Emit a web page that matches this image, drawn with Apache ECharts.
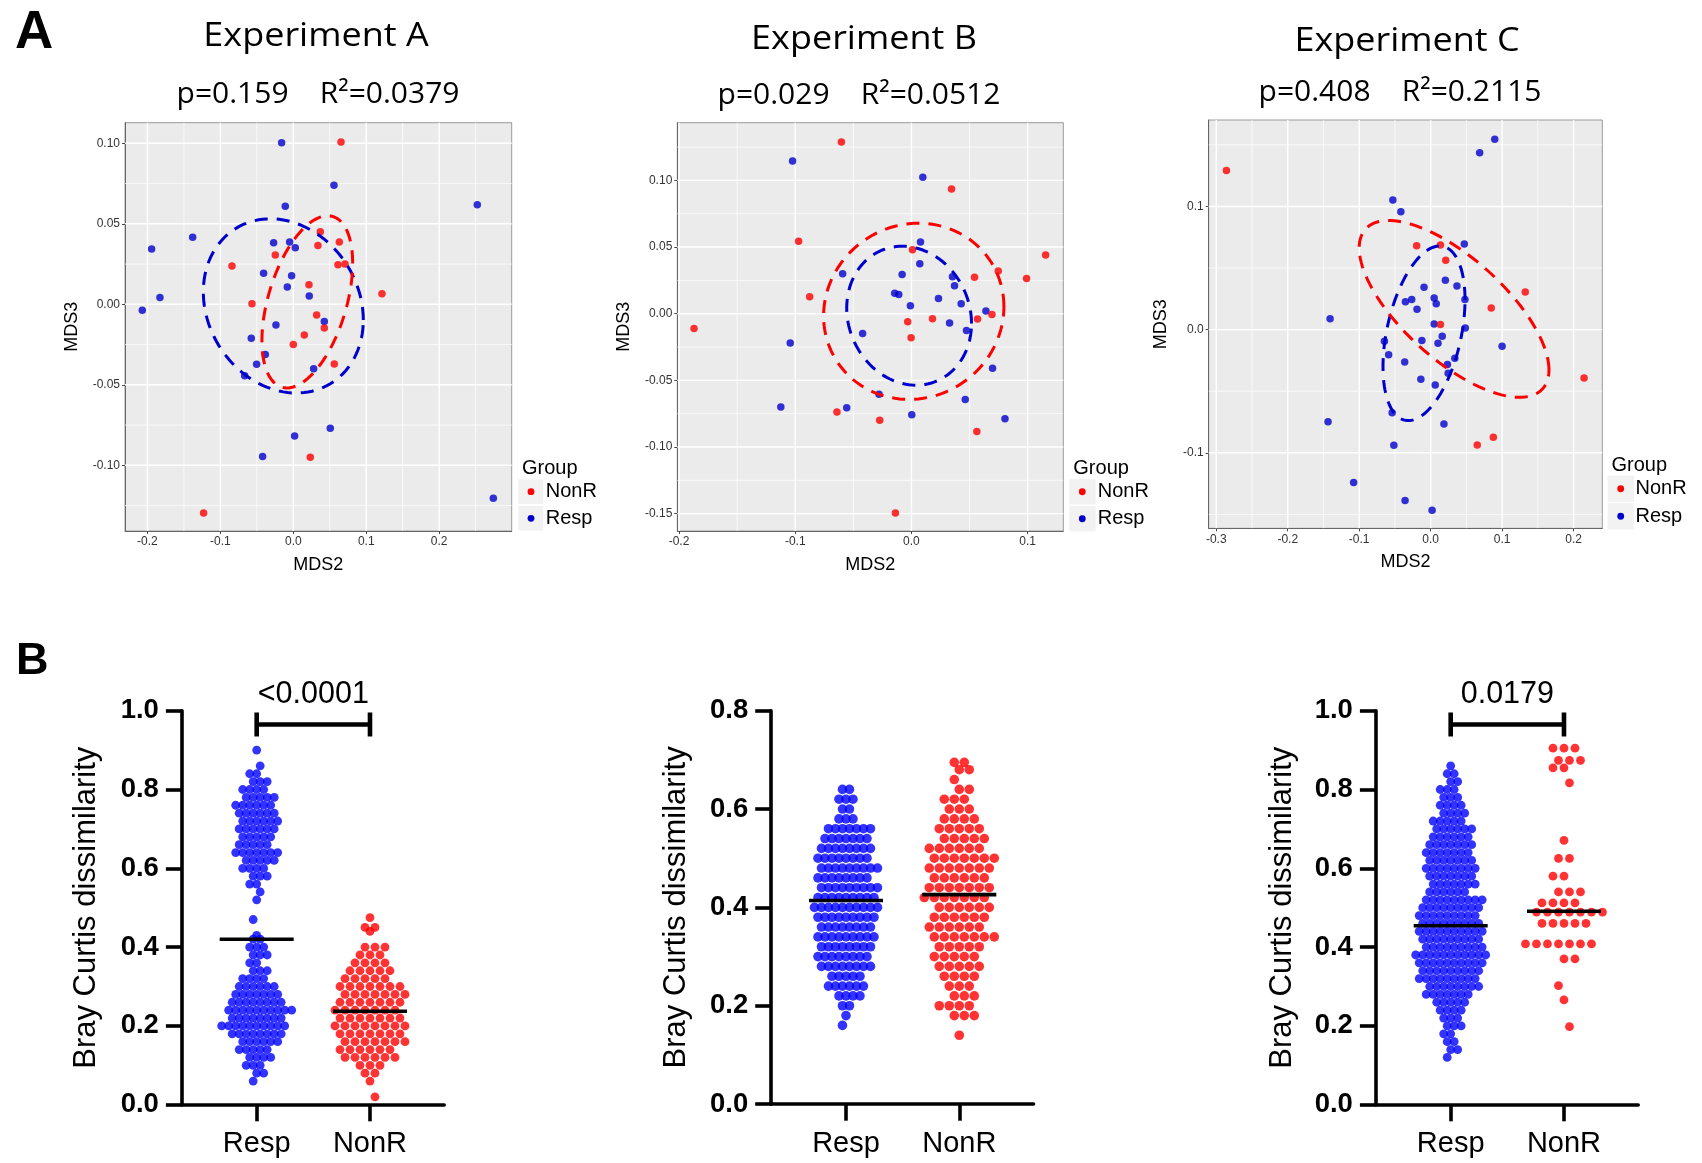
<!DOCTYPE html>
<html>
<head>
<meta charset="utf-8">
<script src="https://cdn.jsdelivr.net/npm/echarts@6/dist/echarts.min.js"></script>
<style>
html, body { margin: 0; padding: 0; background: #fff; }
#chart { width: 1702px; height: 1163px; }
</style>
</head>
<body>
<div id="chart"></div>
<script>
"use strict";

// ---- panel A: MDS ordination, points are [MDS2, MDS3] ----
var expA_resp = [[-0.016,0.1004],[0.0558,0.0739],[0.2523,0.0619],[-0.011,0.0609],[-0.138,0.0416],[-0.1943,0.0344],
	[-0.027,0.0383],[-0.005,0.0387],[0.0027,0.0352],[-0.0407,0.0193],[-0.0023,0.0178],[-0.0082,0.0108],[0.0219,0.0052],
	[-0.1829,0.0043],[-0.2071,-0.0037],[-0.0238,-0.0128],[0.0425,-0.0106],[-0.0576,-0.0211],[-0.0384,-0.0311],
	[-0.0503,-0.0373],[-0.0667,-0.0443],[0.0279,-0.04],[0.0507,-0.077],[0.0018,-0.0818],[-0.0421,-0.0946],[0.2743,-0.1205]];
var expA_nonr = [[0.0654,0.1008],[0.037,0.0451],[0.0338,0.0366],[0.0631,0.0387],[-0.0247,0.0306],[-0.0841,0.0238],
	[0.0613,0.0246],[0.0709,0.0251],[0.0215,0.0122],[0.1216,0.0066],[-0.0567,0.0004],[0.032,-0.0066],[0.0425,-0.0147],
	[0.0151,-0.019],[0.0,-0.025],[0.0562,-0.0371],[0.0233,-0.095],[-0.123,-0.1296]];
var expB_resp = [[-0.1023,0.1145],[0.0098,0.1023],[0.0078,0.0538],[0.0072,0.0375],[-0.0592,0.03],[-0.008,0.0295],
	[0.0353,0.0278],[0.0371,0.021],[-0.0144,0.0153],[-0.0109,0.0145],[0.0233,0.0115],[0.0428,0.0075],[-0.0009,0.006],
	[0.0641,0.002],[-0.042,-0.0148],[0.0328,-0.007],[0.0474,-0.0125],[-0.1043,-0.022],[0.0698,-0.041],[-0.0279,-0.0605],
	[-0.1124,-0.07],[-0.0557,-0.0705],[0.0463,-0.0643],[0.0003,-0.0758],[0.0805,-0.0788]];
var expB_nonr = [[-0.0603,0.1288],[0.0345,0.0935],[-0.0971,0.0543],[0.1155,0.044],[0.0009,0.048],[0.0747,0.032],
	[0.0543,0.0273],[0.0991,0.0265],[-0.0876,0.0128],[-0.1871,-0.011],[-0.0032,-0.006],[0.0181,-0.0038],[0.0569,-0.004],
	[0.0693,-0.0005],[-0.0003,-0.018],[-0.0641,-0.0738],[-0.0273,-0.08],[0.0563,-0.0883],[-0.0138,-0.1495]];
var expC_resp = [[0.0897,0.1545],[0.0686,0.1437],[-0.0529,0.1053],[-0.0417,0.0958],[0.0471,0.0696],[0.0206,0.0401],
	[0.0368,0.0355],[-0.0093,0.0344],[0.0049,0.0257],[0.048,0.0244],[-0.0265,0.0244],[-0.0353,0.0227],[0.0078,0.0211],
	[-0.0191,0.0165],[-0.1407,0.0089],[0.0049,0.0046],[0.0485,0.0014],[-0.0647,-0.0095],[-0.0123,-0.0089],[0.0162,-0.0054],
	[0.0103,-0.0111],[0.1,-0.0135],[-0.0588,-0.0203],[-0.0363,-0.0263],[0.0338,-0.0233],[0.0235,-0.0284],[0.0245,-0.0355],
	[-0.0137,-0.0403],[0.0064,-0.0449],[-0.0539,-0.0674],[0.0186,-0.0766],[-0.1436,-0.0747],[-0.0515,-0.0939],
	[-0.1078,-0.1242],[-0.0358,-0.1388],[0.002,-0.1467]];
var expC_nonr = [[-0.2858,0.1291],[-0.0196,0.0682],[0.0137,0.0687],[0.0211,0.0563],[0.1324,0.0306],[0.0848,0.0176],
	[0.0137,0.0041],[0.2147,-0.0392],[0.0877,-0.0874],[0.0652,-0.0936]];

// 95% ellipses: [centre x, centre y, semi-diameter u (x, y), conjugate semi-diameter v (x, y)]
var ellA_resp = [-0.0137, -0.001, 0.1097, -0.0087, 0, 0.0534];
var ellA_nonr = [0.0192, 0.0015, 0.0622, 0.024, 0, 0.0478];
var ellB_resp = [-0.002, -0.0015, 0.0537, -0.0058, 0, 0.0518];
var ellB_nonr = [0.002, 0.0018, 0.0776, 0.0035, 0, 0.066];
var ellC_resp = [-0.0093, -0.003, 0.0574, 0.0271, 0, 0.0655];
var ellC_nonr = [0.0328, 0.0168, 0.1328, -0.0495, 0, 0.052];

var expTitles = ['Experiment A', 'Experiment B', 'Experiment C'];
var expStats = ['p=0.159    R\u00b2=0.0379', 'p=0.029    R\u00b2=0.0512', 'p=0.408    R\u00b2=0.2115'];
var xTicksA = [-0.2, -0.1, 0, 0.1, 0.2], yTicksA = [-0.1, -0.05, 0, 0.05, 0.1];
var xTicksB = [-0.2, -0.1, 0, 0.1], yTicksB = [-0.15, -0.1, -0.05, 0, 0.05, 0.1];
var xTicksC = [-0.3, -0.2, -0.1, 0, 0.1, 0.2], yTicksC = [-0.1, 0, 0.1];

// ---- panel B: Bray Curtis dissimilarity, rows of the swarm as [value, number of dots] ----
var groups = ['Resp', 'NonR'];
var brayA_resp = [[0.90,1],[0.86,1],[0.84,2],[0.82,3],[0.80,4],[0.78,5],[0.76,6],[0.74,6],[0.72,6],[0.70,6],[0.68,5],
	[0.66,5],[0.64,7],[0.62,5],[0.60,4],[0.58,3],[0.56,2],[0.54,1],[0.52,1],[0.47,1],[0.43,1],[0.42,2],[0.40,3],[0.38,3],
	[0.36,2],[0.34,3],[0.32,4],[0.30,6],[0.28,7],[0.26,8],[0.24,10],[0.22,8],[0.20,10],[0.18,8],[0.16,6],[0.14,5],
	[0.12,4],[0.10,3],[0.08,2],[0.06,1]];
var brayA_nonr = [[0.475,1],[0.45,2],[0.44,1],[0.40,3],[0.38,3],[0.36,4],[0.34,5],[0.32,5],[0.30,7],[0.28,7],[0.26,7],
	[0.24,7],[0.22,7],[0.20,8],[0.18,7],[0.16,7],[0.14,6],[0.12,6],[0.10,3],[0.08,2],[0.06,1],[0.02,1]];
var brayB_resp = [[0.64,2],[0.62,3],[0.60,2],[0.58,3],[0.56,7],[0.54,7],[0.52,8],[0.50,8],[0.48,9],[0.46,8],[0.44,9],
	[0.42,9],[0.40,10],[0.38,9],[0.36,8],[0.34,9],[0.32,8],[0.30,8],[0.28,8],[0.26,5],[0.24,6],[0.22,4],[0.20,2],
	[0.18,1],[0.16,1]];
var brayB_nonr = [[0.695,2],[0.68,2],[0.66,1],[0.64,2],[0.62,3],[0.60,3],[0.58,4],[0.56,5],[0.54,5],[0.52,6],[0.50,7],
	[0.48,7],[0.46,6],[0.44,7],[0.42,7],[0.40,6],[0.38,6],[0.36,6],[0.34,7],[0.32,5],[0.30,5],[0.28,5],[0.26,4],[0.24,3],
	[0.22,3],[0.20,4],[0.18,3],[0.14,1]];
var brayC_resp = [[0.86,1],[0.84,2],[0.82,2],[0.80,3],[0.78,3],[0.76,4],[0.74,4],[0.72,5],[0.70,6],[0.68,6],[0.66,7],
	[0.64,7],[0.62,7],[0.60,8],[0.58,7],[0.56,7],[0.54,6],[0.52,9],[0.50,9],[0.48,9],[0.46,9],[0.44,10],[0.42,9],[0.40,9],
	[0.38,11],[0.36,10],[0.34,9],[0.32,9],[0.30,8],[0.28,7],[0.26,5],[0.24,4],[0.22,3],[0.20,3],[0.18,2],[0.16,2],
	[0.14,2],[0.12,1]];
var brayC_nonr = [[0.905,3],[0.874,3],[0.855,2],[0.817,1],[0.671,1],[0.625,2],[0.58,2],[0.54,3],[0.512,4],[0.489,7],
	[0.46,5],[0.408,7],[0.37,2],[0.302,1],[0.266,1],[0.198,1]];
var brayMedians = [[0.420, 0.237], [0.414, 0.426], [0.454, 0.491]];
var brayPvalues = ['<0.0001', null, '0.0179'];
var bracketLevel = 0.965;

var SANS = '"Liberation Sans", Arial, sans-serif';
var RED = '#FF0000', BLUE_TOP = '#0000CD', BLUE = '#0000FF';

var topLayout = [
	{left: 125, top: 122.7, width: 386.7, height: 408.3, x: [-0.2308, 0.2995], y: [-0.1408, 0.1128], xGap: 25, yGap: 44, yDec: 2},
	{left: 677.3, top: 122.7, width: 386, height: 408.3, x: [-0.2015, 0.1307], y: [-0.163, 0.1433], xGap: 25, yGap: 44, yDec: 2},
	{left: 1208.7, top: 120, width: 393.6, height: 408.3, x: [-0.3106, 0.2402], y: [-0.1613, 0.1702], xGap: 25, yGap: 39, yDec: 1}
];
var botLayout = [
	{left: 181.9, top: 710.7, width: 262.3, height: 394, yMax: 1.0, nameGap: 80},
	{left: 771.2, top: 710.7, width: 262.3, height: 393.4, yMax: 0.8, nameGap: 79},
	{left: 1375.9, top: 710.7, width: 262.3, height: 394, yMax: 1.0, nameGap: 78}
];
var CAT_MIN = 0.34, CAT_MAX = 2.655;
var PX_PER_CAT = 262.3 / (CAT_MAX - CAT_MIN);

var topData = [
	{resp: expA_resp, nonr: expA_nonr, ellR: ellA_resp, ellN: ellA_nonr, xt: xTicksA, yt: yTicksA},
	{resp: expB_resp, nonr: expB_nonr, ellR: ellB_resp, ellN: ellB_nonr, xt: xTicksB, yt: yTicksB},
	{resp: expC_resp, nonr: expC_nonr, ellR: ellC_resp, ellN: ellC_nonr, xt: xTicksC, yt: yTicksC}
];
var botData = [
	{resp: brayA_resp, nonr: brayA_nonr, sR: 7, sN: 10, size: 8.8},
	{resp: brayB_resp, nonr: brayB_nonr, sR: 7, sN: 10, size: 9.6},
	{resp: brayC_resp, nonr: brayC_nonr, sR: 7, sN: 11, size: 8.8}
];

function fmt(d) {
	return function(v) { return (+v).toFixed(d); };
}

// major grid lines at ticks, minor ones half way in between
function gridLineData(xt, yt, L) {
	var out = [];
	function add(dir, ticks, range) {
		var step = ticks[1] - ticks[0];
		ticks.forEach(function(t) { out.push([dir, t, 1]); });
		for (var k = -1; k < ticks.length; k++) {
			var m = ticks[0] + (k + 0.5) * step;
			if (m > range[0] && m < range[1]) out.push([dir, m, 0]);
		}
	}
	add(0, xt, L.x);
	add(1, yt, L.y);
	return out;
}

function gridRender(params, api) {
	var cs = params.coordSys;
	var dir = api.value(0), v = api.value(1), major = api.value(2);
	var shape;
	if (dir === 0) {
		var px = api.coord([v, 0])[0];
		shape = {x1: px, y1: cs.y, x2: px, y2: cs.y + cs.height};
	} else {
		var py = api.coord([0, v])[1];
		shape = {x1: cs.x, y1: py, x2: cs.x + cs.width, y2: py};
	}
	return {type: 'line', shape: shape, style: {stroke: '#FFFFFF', lineWidth: major ? 1.4 : 0.7}};
}

function ellipseRender(color) {
	return function(params, api) {
		var cx = api.value(0), cy = api.value(1), ux = api.value(2), uy = api.value(3), vx = api.value(4), vy = api.value(5);
		var pts = [];
		for (var k = 0; k < 120; k++) {
			var t = k / 120 * 2 * Math.PI;
			pts.push(api.coord([cx + ux * Math.cos(t) + vx * Math.sin(t), cy + uy * Math.cos(t) + vy * Math.sin(t)]));
		}
		return {type: 'polygon', shape: {points: pts}, style: {fill: 'none', stroke: color, lineWidth: 3, lineDash: [13, 9]}};
	};
}

// spread each row sideways; rows whose dots would stack in columns get a half step shift
function swarm(rows, cat, spacing) {
	var out = [];
	var prevPhase = null, sign = 1;
	rows.forEach(function(r) {
		var n = r[1];
		var phase = ((n - 1) / 2) % 1;
		var shift = 0;
		if (prevPhase !== null && phase === prevPhase) {
			shift = 0.5 * sign;
			sign = -sign;
		}
		for (var i = 0; i < n; i++) {
			out.push([cat + (i - (n - 1) / 2 + shift) * spacing / PX_PER_CAT, r[0]]);
		}
		prevPhase = (phase + Math.abs(shift)) % 1;
	});
	return out;
}

function medianRender(params, api) {
	var p = api.coord([api.value(0), api.value(1)]);
	return {type: 'line', shape: {x1: p[0] - 37, y1: p[1], x2: p[0] + 37, y2: p[1]}, style: {stroke: '#000', lineWidth: 3.6}};
}

function bracketRender(label) {
	return function(params, api) {
		var a = api.coord([api.value(0), api.value(2)]);
		var b = api.coord([api.value(1), api.value(2)]);
		var y = a[1];
		var ls = {stroke: '#000', lineWidth: 4.6};
		return {type: 'group', children: [
			{type: 'line', shape: {x1: a[0], y1: y - 12, x2: a[0], y2: y + 12}, style: ls},
			{type: 'line', shape: {x1: a[0], y1: y, x2: b[0], y2: y}, style: ls},
			{type: 'line', shape: {x1: b[0], y1: y - 12, x2: b[0], y2: y + 12}, style: ls},
			{type: 'text', x: (a[0] + b[0]) / 2, y: y - 14, style: {text: label, font: '30.5px ' + SANS, fill: '#000', align: 'center', verticalAlign: 'bottom'}}
		]};
	};
}

var grids = [], xAxes = [], yAxes = [], series = [], graphics = [];

topLayout.forEach(function(L, i) {
	var D = topData[i];
	grids.push({left: L.left, top: L.top, width: L.width, height: L.height, show: true,
		backgroundColor: '#EBEBEB', borderColor: '#9A9A9A', borderWidth: 1});
	xAxes.push({gridIndex: i, type: 'value', min: L.x[0], max: L.x[1],
		axisLine: {show: true, onZero: false, lineStyle: {color: '#666', width: 1}},
		axisTick: {show: true, customValues: D.xt, length: 3, lineStyle: {color: '#444', width: 1}},
		axisLabel: {customValues: D.xt, formatter: fmt(1), fontSize: 12, color: '#333', margin: 5, fontFamily: SANS},
		splitLine: {show: false},
		name: 'MDS2', nameLocation: 'middle', nameGap: L.xGap,
		nameTextStyle: {fontSize: 18, color: '#000', fontFamily: SANS}});
	yAxes.push({gridIndex: i, type: 'value', min: L.y[0], max: L.y[1],
		axisLine: {show: true, onZero: false, lineStyle: {color: '#666', width: 1}},
		axisTick: {show: true, customValues: D.yt, length: 3, lineStyle: {color: '#444', width: 1}},
		axisLabel: {customValues: D.yt, formatter: fmt(L.yDec), fontSize: 12, color: '#333', margin: 5, fontFamily: SANS},
		splitLine: {show: false},
		name: 'MDS3', nameLocation: 'middle', nameGap: L.yGap,
		nameTextStyle: {fontSize: 18, color: '#000', fontFamily: SANS}});
	series.push({type: 'custom', xAxisIndex: i, yAxisIndex: i, z: 1, silent: true,
		data: gridLineData(D.xt, D.yt, L), renderItem: gridRender});
	series.push({type: 'scatter', xAxisIndex: i, yAxisIndex: i, z: 2, symbolSize: 7.5,
		itemStyle: {color: BLUE_TOP}, data: D.resp});
	series.push({type: 'scatter', xAxisIndex: i, yAxisIndex: i, z: 2, symbolSize: 7.5,
		itemStyle: {color: RED}, data: D.nonr});
	series.push({type: 'custom', xAxisIndex: i, yAxisIndex: i, z: 3, silent: true,
		data: [D.ellR], renderItem: ellipseRender(BLUE_TOP)});
	series.push({type: 'custom', xAxisIndex: i, yAxisIndex: i, z: 3, silent: true,
		data: [D.ellN], renderItem: ellipseRender(RED)});
});

botLayout.forEach(function(L, j) {
	var i = j + 3;
	var D = botData[j];
	grids.push({left: L.left, top: L.top, width: L.width, height: L.height});
	xAxes.push({gridIndex: i, type: 'value', min: CAT_MIN, max: CAT_MAX,
		axisLine: {show: true, onZero: false, lineStyle: {color: '#000', width: 3.6}},
		axisTick: {show: true, customValues: [1, 2], length: 16.6, lineStyle: {color: '#000', width: 3.6}},
		axisLabel: {customValues: [1, 2], formatter: function(v) { return groups[Math.round(v) - 1]; },
			fontSize: 29, color: '#000', margin: 25, fontFamily: SANS},
		splitLine: {show: false}});
	yAxes.push({gridIndex: i, type: 'value', min: 0, max: L.yMax, interval: 0.2,
		axisLine: {show: true, onZero: false, lineStyle: {color: '#000', width: 3.6}},
		axisTick: {show: true, length: 16, lineStyle: {color: '#000', width: 3.6}},
		axisLabel: {formatter: fmt(1), fontSize: 27.5, fontWeight: 'bold', color: '#000', margin: 23, fontFamily: SANS},
		splitLine: {show: false},
		name: 'Bray Curtis dissimilarity', nameLocation: 'middle', nameGap: L.nameGap,
		nameTextStyle: {fontSize: 31, color: '#000', fontFamily: SANS}});
	series.push({type: 'scatter', xAxisIndex: i, yAxisIndex: i, z: 2, symbolSize: D.size,
		itemStyle: {color: BLUE}, data: swarm(D.resp, 1, D.sR)});
	series.push({type: 'scatter', xAxisIndex: i, yAxisIndex: i, z: 2, symbolSize: D.size,
		itemStyle: {color: RED}, data: swarm(D.nonr, 2, D.sN)});
	series.push({type: 'custom', xAxisIndex: i, yAxisIndex: i, z: 4, silent: true,
		data: [[1, brayMedians[j][0]], [2, brayMedians[j][1]]], renderItem: medianRender});
	if (brayPvalues[j]) {
		series.push({type: 'custom', xAxisIndex: i, yAxisIndex: i, z: 4, silent: true,
			encode: {x: [0, 1], y: 2}, data: [[1, 2, bracketLevel]], renderItem: bracketRender(brayPvalues[j])});
	}
});

// ---- texts outside the plots ----
function txt(text, x, y, font, align, scaleX) {
	return {type: 'text', x: x, y: y, scaleX: scaleX || 1,
		style: {text: text, font: font, fill: '#000', align: align, verticalAlign: 'middle'}};
}

graphics.push(txt('A', 15, 33, 'bold 53px ' + SANS, 'left'));
graphics.push(txt('B', 16, 662, 'bold 45px ' + SANS, 'left'));

var titleX = [316, 864, 1407], titleY = [36.5, 40, 42];
var statX = [318, 859, 1400], statY = [94, 95, 92];
expTitles.forEach(function(t, i) {
	graphics.push(txt(t, titleX[i], titleY[i], '33px "Open Sans"', 'center', 1.09));
	graphics.push(txt(expStats[i], statX[i], statY[i], '30px "Open Sans"', 'center'));
});

// ggplot legends
var legendPos = [
	{gx: 522, gy: 468.5, bx: 518.3, rows: [479.3, 506], bw: 25, bh: 24.7, dx: 531, tx: 545.7},
	{gx: 1073.3, gy: 468.5, bx: 1069.3, rows: [479, 506], bw: 26.4, bh: 25.5, dx: 1082.3, tx: 1097.7},
	{gx: 1611.5, gy: 465, bx: 1607.5, rows: [475.5, 503], bw: 26.5, bh: 26.5, dx: 1620.7, tx: 1635.5}
];
var legendItems = [['NonR', RED], ['Resp', BLUE_TOP]];
legendPos.forEach(function(P) {
	graphics.push(txt('Group', P.gx, P.gy, '20px ' + SANS, 'left'));
	legendItems.forEach(function(it, k) {
		var top = P.rows[k];
		graphics.push({type: 'rect', shape: {x: P.bx, y: top, width: P.bw, height: P.bh}, style: {fill: '#F2F2F2'}});
		graphics.push({type: 'circle', shape: {cx: P.dx, cy: top + P.bh / 2, r: 3.4}, style: {fill: it[1]}});
		graphics.push(txt(it[0], P.tx, top + P.bh / 2, '20px ' + SANS, 'left'));
	});
});

var chart = echarts.init(document.getElementById('chart'));
chart.setOption({
	animation: false,
	backgroundColor: '#FFFFFF',
	textStyle: {fontFamily: SANS},
	grid: grids,
	xAxis: xAxes,
	yAxis: yAxes,
	series: series,
	graphic: graphics
});
</script>
</body>
</html>
